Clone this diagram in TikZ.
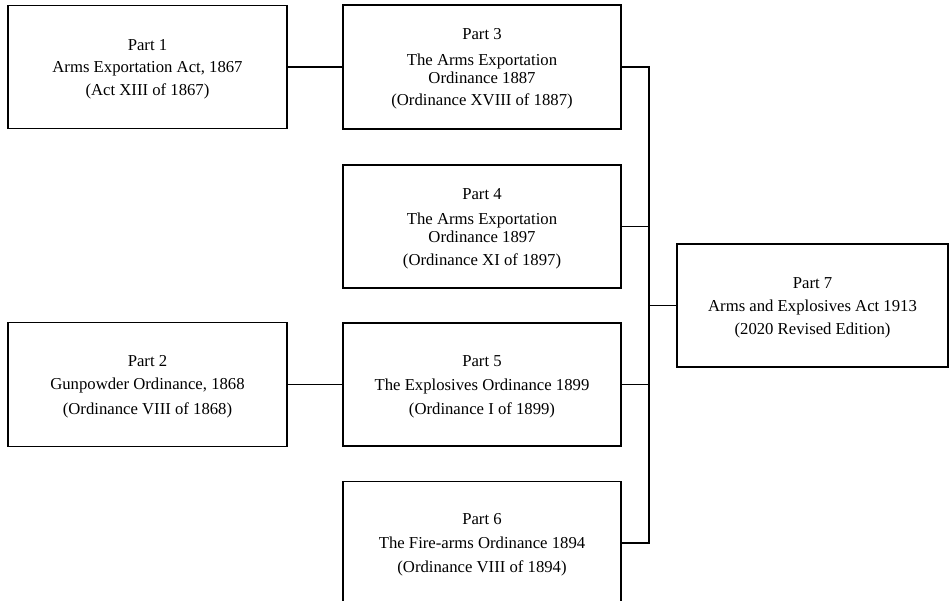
\documentclass[tikz,border=0pt]{standalone}
\usepackage{fontspec}
\setmainfont{Liberation Serif}
\newcommand{\topstrut}{\rule{0pt}{15pt}}
\begin{document}
\begin{tikzpicture}[x=1pt,y=-1pt,
  partbox/.style={draw=black, line width=1.3pt, align=center, inner sep=0pt,
    minimum width=278pt, minimum height=123pt,
    font=\fontsize{16.7}{18}\selectfont},
  link/.style={draw=black, line width=1.2pt}]
\useasboundingbox (0,0) rectangle (949,601);
\node[partbox, minimum width=279pt] (P1) at (147.5,67)
  {\topstrut Part 1\\[4.5pt]Arms Exportation Act, 1867\\[4.5pt](Act XIII of 1867)};
\node[partbox, minimum width=279pt, minimum height=124pt] (P2) at (147.5,384.5)
  {\topstrut Part 2\\[5.5pt]Gunpowder Ordinance, 1868\\[6.5pt](Ordinance VIII of 1868)};
\node[partbox, minimum height=124pt] (P3) at (482,67)
  {\topstrut Part 3\\[8pt]The Arms Exportation\\Ordinance 1887\\[4pt](Ordinance XVIII of 1887)};
\node[partbox] (P4) at (482,226.5)
  {\topstrut Part 4\\[7pt]The Arms Exportation\\Ordinance 1897\\[5pt](Ordinance XI of 1897)};
\node[partbox] (P5) at (482,384.5)
  {\topstrut Part 5\\[6pt]The Explosives Ordinance 1899\\[6pt](Ordinance I of 1899)};
\node[partbox] (P6) at (482,543)
  {\topstrut Part 6\\[6pt]The Fire-arms Ordinance 1894\\[6pt](Ordinance VIII of 1894)};
\node[partbox, minimum width=271pt] (P7) at (812.5,305.5)
  {\topstrut Part 7\\[5pt]Arms and Explosives Act 1913\\[5pt](2020 Revised Edition)};
\coordinate (tTop) at (649,67);
\coordinate (tBot) at (649,543);
\draw[link] (P1.east) -- (P3.west);
\draw[link] (P2.east) -- (P5.west);
\draw[link] (P3.east) -- (tTop) -- (tBot) -- (P6.east);
\draw[link] (P4.east) -- (P4.east -| tTop);
\draw[link] (P5.east) -- (P5.east -| tTop);
\draw[link] (P7.west) -- (P7.west -| tTop);
\end{tikzpicture}
\end{document}
